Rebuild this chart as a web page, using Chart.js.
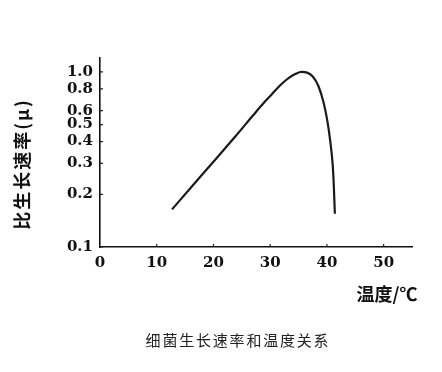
<!DOCTYPE html>
<html>
<head>
<meta charset="utf-8">
<script src="https://cdn.jsdelivr.net/npm/chart.js@4/dist/chart.umd.min.js"></script>
<style>
  body { margin: 0; background: #fff; }
  #wrap { position: relative; width: 442px; height: 372px; }
  #caption {
    position: absolute; left: 17px; width: 442px; top: 329px;
    text-align: center; font: 15px "Noto Sans CJK SC", sans-serif;
    letter-spacing: 1.8px; color: #222;
  }
</style>
</head>
<body>
<div id="wrap">
  <canvas id="chart" width="442" height="372"></canvas>
  <div id="caption">细菌生长速率和温度关系</div>
</div>
<script>
// temperature (°C) and specific growth rate
const temps = [12.7, 16, 20, 24, 27, 29, 30.3, 31.3, 32.3, 33.3, 34.5, 35.5, 36.5, 37.5, 38.5, 39.4, 40.1, 40.6, 41.0, 41.2, 41.4];
const rates = [0.164, 0.218, 0.307, 0.433, 0.565, 0.672, 0.745, 0.81, 0.87, 0.925, 0.975, 1.0, 0.99, 0.94, 0.83, 0.67, 0.52, 0.40, 0.30, 0.23, 0.155];

const xTicks = [0, 10, 20, 30, 40, 50];
const yTicks = [0.1, 0.2, 0.3, 0.4, 0.5, 0.6, 0.8, 1.0];

const yTitle = "比生长速率(μ)";
const xTitle = "温度/℃";

const tickFont = { family: "DejaVu Serif", size: 15, weight: "bold" };

// little tick marks pointing into the plot, plus the two axis titles
const extras = {
  id: "extras",
  afterDraw(chart) {
    const ctx = chart.ctx;
    const xs = chart.scales.x, ys = chart.scales.y;
    ctx.save();
    ctx.strokeStyle = "#222";
    ctx.lineWidth = 1.2;
    ctx.beginPath();
    yTicks.forEach(v => {
      const py = ys.getPixelForValue(v);
      ctx.moveTo(xs.left, py);
      ctx.lineTo(xs.left + 3, py);
    });
    xTicks.slice(1).forEach(v => {
      const px = xs.getPixelForValue(v);
      ctx.moveTo(px, ys.bottom);
      ctx.lineTo(px, ys.bottom - 3);
    });
    ctx.stroke();

    ctx.fillStyle = "#111";
    ctx.font = "bold 18px 'Noto Sans CJK SC'";
    ctx.letterSpacing = "2px";
    ctx.textAlign = "center";
    ctx.textBaseline = "middle";
    ctx.translate(22, 164);
    ctx.rotate(-Math.PI / 2);
    ctx.fillText(yTitle, 0, 0);
    ctx.restore();

    ctx.save();
    ctx.fillStyle = "#111";
    ctx.font = "bold 18px 'Noto Sans CJK SC'";
    ctx.textAlign = "center";
    ctx.textBaseline = "middle";
    ctx.fillText(xTitle, 387, 294);
    ctx.restore();
  }
};

new Chart(document.getElementById("chart"), {
  type: "line",
  data: {
    datasets: [{
      data: temps.map((t, i) => ({ x: t, y: rates[i] })),
      borderColor: "#1a1a1a",
      borderWidth: 2.2,
      pointRadius: 0,
      cubicInterpolationMode: "monotone",
      fill: false
    }]
  },
  options: {
    responsive: false,
    animation: false,
    layout: { padding: { top: 58, right: 30, left: 0, bottom: 0 } },
    plugins: { legend: { display: false }, tooltip: { enabled: false } },
    scales: {
      x: {
        type: "linear",
        min: 0,
        max: 55,
        afterBuildTicks: s => { s.ticks = xTicks.map(v => ({ value: v })); },
        afterFit: s => { s.height = 125; },
        grid: { drawOnChartArea: false, drawTicks: false },
        border: { color: "#111", width: 1.6 },
        ticks: { font: tickFont, color: "#111", padding: 7, maxRotation: 0 }
      },
      y: {
        type: "logarithmic",
        min: 0.1,
        max: 1.2,
        afterBuildTicks: s => { s.ticks = yTicks.map(v => ({ value: v })); },
        afterFit: s => { s.width = 100; },
        grid: { drawOnChartArea: false, drawTicks: false },
        border: { color: "#111", width: 1.6 },
        ticks: {
          font: tickFont, color: "#111", padding: 7,
          callback: v => Number(v).toFixed(1)
        }
      }
    }
  },
  plugins: [extras]
});
</script>
</body>
</html>
